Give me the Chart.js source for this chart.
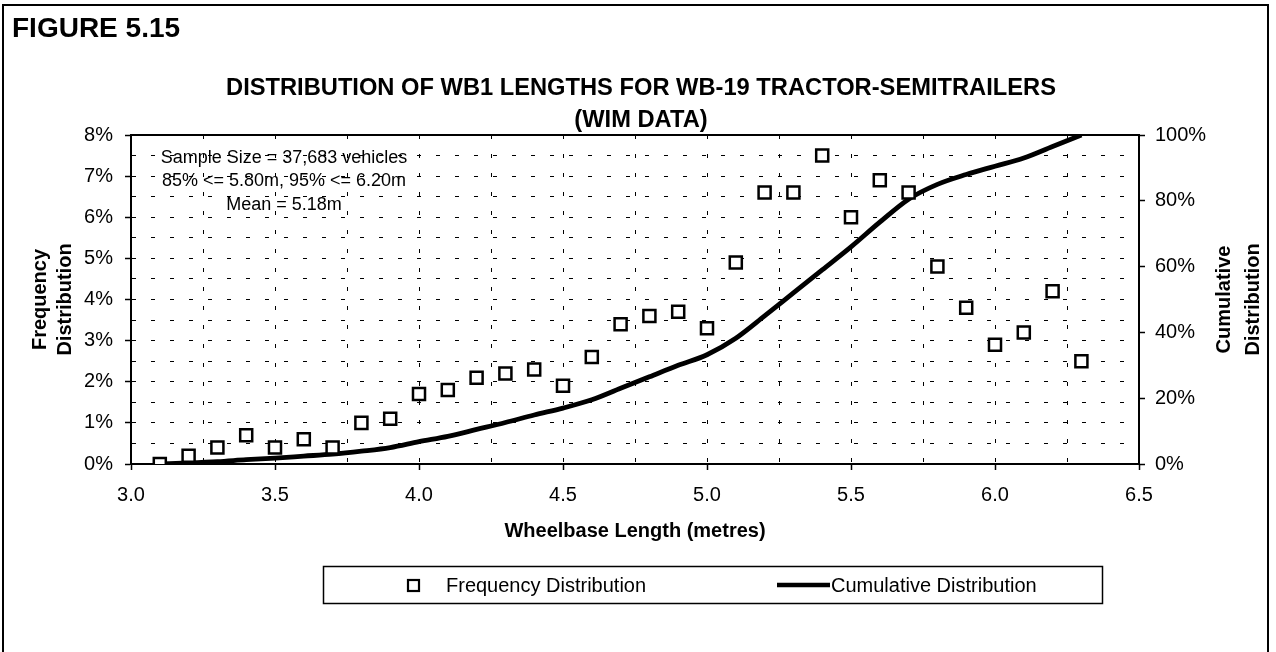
<!DOCTYPE html>
<html>
<head>
<meta charset="utf-8">
<script src="https://cdn.jsdelivr.net/npm/chart.js@4.4.0/dist/chart.umd.min.js"></script>
<style>
  body { margin: 0; background: #fff; }
  canvas { display: block; }
</style>
</head>
<body>
<canvas id="chart" width="1276" height="652"></canvas>
<script>
// wheelbase categories (metres)
const wheelbase = [3.1, 3.2, 3.3, 3.4, 3.5, 3.6, 3.7, 3.8, 3.9, 4.0, 4.1,
                   4.2, 4.3, 4.4, 4.5, 4.6, 4.7, 4.8, 4.9, 5.0, 5.1, 5.2,
                   5.3, 5.4, 5.5, 5.6, 5.7, 5.8, 5.9, 6.0, 6.1, 6.2, 6.3];

// frequency distribution (%), left axis
const frequencyPct = [0.0, 0.2, 0.4, 0.7, 0.4, 0.6, 0.4, 1.0, 1.1, 1.7, 1.8,
                      2.1, 2.2, 2.3, 1.9, 2.6, 3.4, 3.6, 3.7, 3.3, 4.9, 6.6,
                      6.6, 7.5, 6.0, 6.9, 6.6, 4.8, 3.8, 2.9, 3.2, 4.2, 2.5];

// cumulative distribution (%), right axis
const cumulativePct = [0, 0.3, 0.7, 1.3, 1.8, 2.4, 3.0, 3.9, 5.0, 6.8, 8.4,
                       10.5, 12.6, 14.9, 17.0, 19.5, 23.0, 26.5, 30.0, 33.2, 38.2, 45.0,
                       52.0, 59.0, 66.0, 73.5, 80.5, 85.0, 88.0, 90.5, 93.0, 96.5, 100];

const xTickLabels = ["3.0", "3.5", "4.0", "4.5", "5.0", "5.5", "6.0", "6.5"];
const leftTickLabels = ["0%", "1%", "2%", "3%", "4%", "5%", "6%", "7%", "8%"];
const rightTickLabels = ["0%", "20%", "40%", "60%", "80%", "100%"];

const noteLines = [
    "Sample Size = 37,683 vehicles",
    "85% <= 5.80m, 95% <= 6.20m",
    "Mean = 5.18m",
];

const FONT = "'Liberation Sans', Arial, Helvetica, sans-serif";

const decorations = {
    id: "decorations",
    beforeDatasetsDraw(chart) {
        const { ctx, chartArea: a } = chart;
        ctx.save();
        ctx.strokeStyle = "#000";
        ctx.lineWidth = 2;
        ctx.strokeRect(a.left, a.top, a.right - a.left, a.bottom - a.top);
        ctx.restore();
    },
    afterDraw(chart) {
        const { ctx, chartArea: a } = chart;
        ctx.save();
        ctx.fillStyle = "#000";
        ctx.strokeStyle = "#000";

        // page frame
        ctx.lineWidth = 2;
        ctx.beginPath();
        ctx.moveTo(3, 652);
        ctx.lineTo(3, 5);
        ctx.lineTo(1268, 5);
        ctx.lineTo(1268, 652);
        ctx.stroke();

        ctx.textBaseline = "middle";
        ctx.textAlign = "left";
        ctx.font = "bold 28px " + FONT;
        ctx.fillText("FIGURE 5.15", 12, 29);

        ctx.textAlign = "center";
        ctx.font = "bold 23.7px " + FONT;
        ctx.fillText("DISTRIBUTION OF WB1 LENGTHS FOR WB-19 TRACTOR-SEMITRAILERS", 641, 88);
        ctx.fillText("(WIM DATA)", 641, 120);

        // note box
        ctx.font = "18px " + FONT;
        noteLines.forEach((t, i) => ctx.fillText(t, 284, 158 + i * 23.5));

        // axis titles
        ctx.font = "bold 20px " + FONT;
        ctx.fillText("Wheelbase Length (metres)", (a.left + a.right) / 2, 531);
        const midY = (a.top + a.bottom) / 2;
        [["Frequency", 40], ["Distribution", 65], ["Cumulative", 1224], ["Distribution", 1253]]
            .forEach(([t, x]) => {
                ctx.save();
                ctx.translate(x, midY);
                ctx.rotate(-Math.PI / 2);
                ctx.fillText(t, 0, 0);
                ctx.restore();
            });

        // legend
        ctx.lineWidth = 1.5;
        ctx.strokeRect(323.5, 566.5, 779, 37);
        ctx.lineWidth = 2.2;
        ctx.fillStyle = "#fff";
        ctx.fillRect(408, 580, 11, 11);
        ctx.strokeRect(408, 580, 11, 11);
        ctx.fillStyle = "#000";
        ctx.lineWidth = 4.5;
        ctx.beginPath();
        ctx.moveTo(777, 585);
        ctx.lineTo(830, 585);
        ctx.stroke();
        ctx.textAlign = "left";
        ctx.font = "20px " + FONT;
        ctx.fillText("Frequency Distribution", 446, 586);
        ctx.fillText("Cumulative Distribution", 831, 586);
        ctx.restore();
    },
};

const gridBase = {
    color: "#000",
    lineWidth: 1,
    tickLength: 6,
    tickWidth: 1.5,
};

const ctx = document.getElementById("chart").getContext("2d");
new Chart(ctx, {
    type: "scatter",
    data: {
        datasets: [
            {
                label: "Frequency Distribution",
                data: wheelbase.map((x, i) => ({ x: x, y: frequencyPct[i] })),
                yAxisID: "y",
                pointStyle: "rect",
                pointRadius: 8.5,
                pointBorderWidth: 2.5,
                borderColor: "#000",
                backgroundColor: "#fff",
                showLine: false,
                order: 1,
            },
            {
                label: "Cumulative Distribution",
                data: wheelbase.map((x, i) => ({ x: x, y: cumulativePct[i] })),
                yAxisID: "y2",
                showLine: true,
                borderColor: "#000",
                borderWidth: 4.8,
                pointRadius: 0,
                cubicInterpolationMode: "monotone",
                order: 2,
            },
        ],
    },
    options: {
        responsive: false,
        animation: false,
        layout: { padding: { left: 0, right: 0, top: 135, bottom: 128 } },
        plugins: {
            legend: { display: false },
            tooltip: { enabled: false },
        },
        scales: {
            x: {
                type: "linear",
                min: 3.0,
                max: 6.5,
                afterFit: (s) => { s.height = 60; },
                ticks: {
                    stepSize: 0.25,
                    autoSkip: false,
                    maxRotation: 0,
                    padding: 13,
                    color: "#000",
                    font: { family: FONT, size: 20 },
                    callback: (v) => {
                        const t = Number(v).toFixed(1);
                        return Number.isInteger(v * 2) && xTickLabels.includes(t) ? t : "";
                    },
                },
                grid: {
                    ...gridBase,
                    tickColor: (c) => (c.tick && Number.isInteger(c.tick.value * 2) ? "#000" : "rgba(0,0,0,0)"),
                },
                border: { display: true, color: "#000", width: 2, dash: [4, 15] },
            },
            y: {
                position: "left",
                min: 0,
                max: 8,
                afterFit: (s) => { s.width = 131; },
                ticks: {
                    stepSize: 0.5,
                    autoSkip: false,
                    padding: 12,
                    color: "#000",
                    font: { family: FONT, size: 20 },
                    callback: (v) => (Number.isInteger(v) ? leftTickLabels[v] : ""),
                },
                grid: {
                    ...gridBase,
                    tickColor: (c) => (c.tick && Number.isInteger(c.tick.value) ? "#000" : "rgba(0,0,0,0)"),
                },
                border: { display: true, color: "#000", width: 2, dash: [4, 15] },
            },
            y2: {
                position: "right",
                min: 0,
                max: 100,
                afterFit: (s) => { s.width = 137; },
                ticks: {
                    stepSize: 20,
                    padding: 10,
                    color: "#000",
                    font: { family: FONT, size: 20 },
                    callback: (v) => rightTickLabels[v / 20],
                },
                grid: { ...gridBase, drawOnChartArea: false, tickColor: "#000" },
                border: { display: true, color: "#000", width: 2 },
            },
        },
    },
    plugins: [decorations],
});
</script>
</body>
</html>
